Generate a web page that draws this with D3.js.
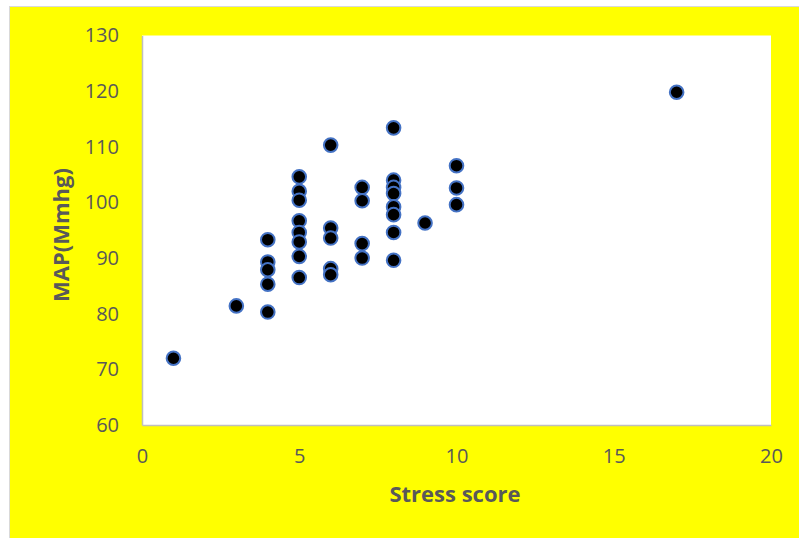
<!DOCTYPE html>
<html>
<head>
<meta charset="utf-8">
<script src="https://cdn.jsdelivr.net/npm/d3@7"></script>
<style>
  body { margin: 0; background: #fff; }
  svg text { font-family: "Open Sans", Calibri, sans-serif; fill: #595959; }
</style>
</head>
<body>
<svg id="scatterplot"></svg>
<script>
// stress score vs mean arterial pressure
let stress = [1, 3, 4, 4, 4, 4, 4, 5, 5, 5, 5, 5, 5, 5, 5, 6, 6, 6, 6, 6, 7, 7, 7, 7, 8, 8, 8, 8, 8, 8, 8, 8, 9, 10, 10, 10, 17];
let map = [72.0, 81.4, 93.3, 89.3, 87.9, 85.3, 80.3, 104.6, 102.0, 100.4, 96.7, 94.6, 92.9, 90.3, 86.5,
           110.3, 95.4, 93.6, 88.1, 87.0, 102.7, 100.3, 92.6, 90.0,
           113.4, 104.0, 102.7, 101.6, 99.2, 97.8, 94.6, 89.6, 96.3, 106.6, 102.6, 99.6, 119.8];
let xTicks = [0, 5, 10, 15, 20];
let yTicks = [60, 70, 80, 90, 100, 110, 120, 130];

let dataset = stress.map((s, i) => ({stress: s, map: map[i]}));

function makeScatterplot(dataset) {
    let w = 799;
    let h = 538;

    let svg = d3.select('#scatterplot')
        .attr('width', w)
        .attr('height', h);

    // yellow chart area with grey frame
    svg.append('rect')
        .attr('x', 9.5).attr('y', 6.5)
        .attr('width', w).attr('height', h)
        .attr('fill', '#ffff00')
        .attr('stroke', '#d9d9d9');

    let left = 142, right = 771, top = 35.5, bottom = 425;

    let xScale = d3.scaleLinear().domain([0, 20]).range([left, right]);
    let yScale = d3.scaleLinear().domain([60, 130]).range([bottom, top]);

    svg.append('rect')
        .attr('x', left).attr('y', top)
        .attr('width', right - left).attr('height', bottom - top)
        .attr('fill', '#fff');

    // axes
    let xAxis = svg.append('g')
        .attr('transform', `translate(0, ${bottom})`)
        .call(d3.axisBottom(xScale).tickValues(xTicks).tickSize(0).tickPadding(24));
    let yAxis = svg.append('g')
        .attr('transform', `translate(${left}, 0)`)
        .call(d3.axisLeft(yScale).tickValues(yTicks).tickSize(0).tickPadding(23));

    [xAxis, yAxis].forEach(g => {
        g.select('.domain').attr('stroke', '#bfbfbf').attr('stroke-width', 1.5);
        g.selectAll('text')
            .attr('font-family', '"Open Sans", sans-serif')
            .attr('font-size', '20px')
            .attr('fill', '#595959');
    });

    svg.selectAll('circle')
        .data(dataset)
        .enter()
        .append('circle')
        .attr('cx', d => xScale(d.stress))
        .attr('cy', d => yScale(d.map))
        .attr('r', 6.8)
        .attr('fill', '#000')
        .attr('stroke', '#4472c4')
        .attr('stroke-width', 2);

    // axis titles
    svg.append('text')
        .attr('x', 455)
        .attr('y', 502)
        .attr('text-anchor', 'middle')
        .attr('font-size', '22px')
        .attr('font-weight', 'bold')
        .text('Stress score');

    svg.append('text')
        .attr('transform', 'translate(69, 235) rotate(-90)')
        .attr('text-anchor', 'middle')
        .attr('font-size', '22px')
        .attr('font-weight', 'bold')
        .text('MAP(Mmhg)');
}

makeScatterplot(dataset);
</script>
</body>
</html>
